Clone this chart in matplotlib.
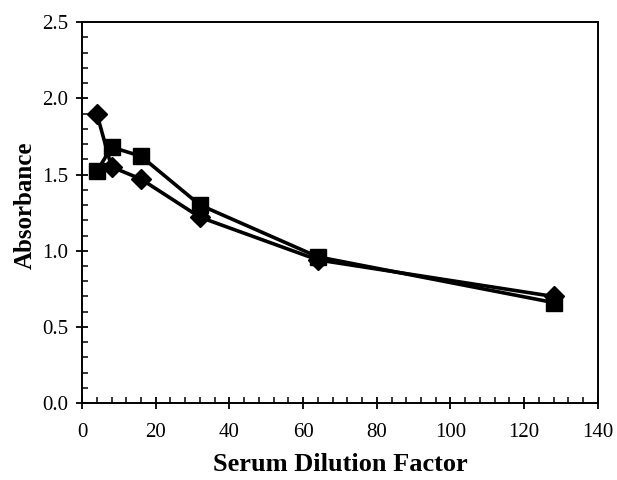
import matplotlib.pyplot as plt
from matplotlib.ticker import MultipleLocator

dilution = [4, 8, 16, 32, 64, 128]
abs_diamond = [1.90, 1.55, 1.47, 1.22, 0.94, 0.70]
abs_square = [1.52, 1.68, 1.62, 1.30, 0.96, 0.66]

plt.rcParams['font.family'] = ['Liberation Serif', 'DejaVu Serif']

fig = plt.figure(figsize=(6.17, 4.8), dpi=100)
ax = fig.add_axes([0.133, 0.160, 0.836, 0.794])

ax.plot(dilution, abs_diamond, color='black', lw=2.6, marker='D',
        markersize=10, zorder=3)
ax.plot(dilution, abs_square, color='black', lw=2.6, marker='s',
        markersize=11, zorder=3)

ax.set_xlim(0, 140)
ax.set_ylim(0, 2.5)
ax.xaxis.set_major_locator(MultipleLocator(20))
ax.xaxis.set_minor_locator(MultipleLocator(4))
ax.yaxis.set_major_locator(MultipleLocator(0.5))
ax.yaxis.set_minor_locator(MultipleLocator(0.1))
ax.yaxis.set_major_formatter(plt.FuncFormatter(lambda v, p: f"{v:.1f}"))

ax.tick_params(which='major', direction='inout', length=8, width=1.3,
               labelsize=15, pad=6)
ax.tick_params(which='minor', direction='in', length=4, width=1.1)
ax.tick_params(axis='x', pad=10)
for s in ax.spines.values():
    s.set_linewidth(1.4)

ax.set_xlabel('Serum Dilution Factor', fontsize=19, fontweight='bold', labelpad=8)
ax.set_ylabel('Absorbance', fontsize=18, fontweight='bold')
ax.yaxis.set_label_coords(-0.088, 0.52)

fig.savefig('out.png', dpi=100)
